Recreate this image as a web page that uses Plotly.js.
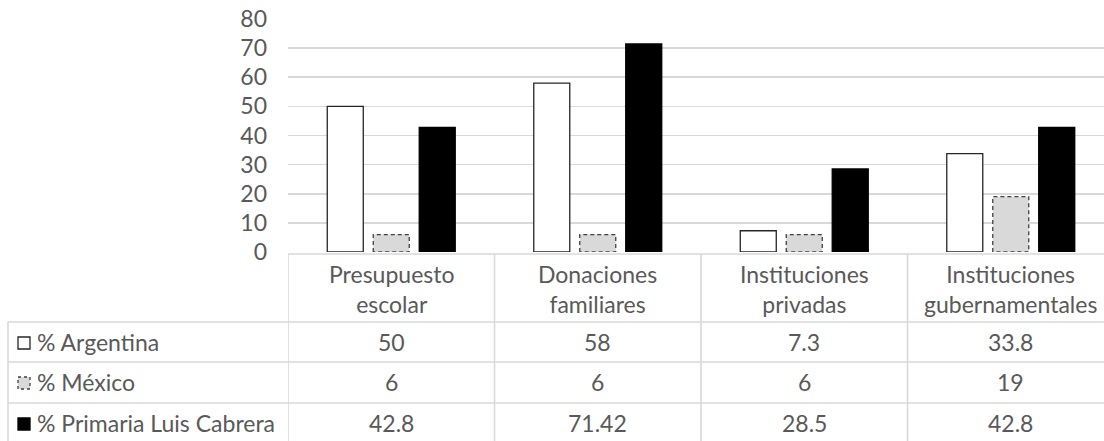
<!DOCTYPE html>
<html>
<head>
<meta charset="utf-8">
<script src="https://cdn.plot.ly/plotly-3.0.1.min.js"></script>
<style>
  html, body { margin: 0; padding: 0; overflow: hidden; background: #fff; }
  #chart { width: 1120px; height: 441px; }
  .barlayer .trace:nth-child(2) path { stroke-dasharray: 4 3; }
</style>
</head>
<body>
<div id="chart"></div>
<script>
// ---- data ----
const categories = ["Presupuesto escolar", "Donaciones familiares", "Instituciones privadas", "Instituciones gubernamentales"];
const headerLabels = ["Presupuesto<br>escolar", "Donaciones<br>familiares", "Instituciones<br>privadas", "Instituciones<br>gubernamentales"];
const seriesNames = ["% Argentina", "% México", "% Primaria Luis Cabrera"];
const argentina = [50, 58, 7.3, 33.8];
const mexico = [6, 6, 6, 19];
const luisCabrera = [42.8, 71.42, 28.5, 42.8];
const yTicks = [0, 10, 20, 30, 40, 50, 60, 70, 80];

// ---- geometry helpers (pixels -> paper) ----
const W = 1120, H = 441;
const M = { l: 288, r: 6, t: 19, b: 189 };
const PW = W - M.l - M.r, PH = H - M.t - M.b;
const xp = px => (px - M.l) / PW;
const yp = py => (H - M.b - py) / PH;

const textColor = "#595959";
const lineColor = "#d9d9d9";
const font = "Lato, 'Open Sans', sans-serif";
const fs = 23;

const traces = [
  { type: "bar", name: seriesNames[0], x: categories, y: argentina,
    marker: { color: "#ffffff", line: { color: "#262626", width: 1.3 } }, hoverinfo: "y" },
  { type: "bar", name: seriesNames[1], x: categories, y: mexico,
    marker: { color: "#d9d9d9", line: { color: "#404040", width: 1.3 } }, hoverinfo: "y" },
  { type: "bar", name: seriesNames[2], x: categories, y: luisCabrera,
    marker: { color: "#000000", line: { color: "#000000", width: 1.3 } }, hoverinfo: "y" }
];

const shapes = [];
const annotations = [];
const tableTop = 254, headerBottom = 322, rowLines = [362, 403], tableBottom = 470;
const rowCenters = [342, 382, 423];
const leftEdge = 8;
const lineStyle = { color: lineColor, width: 1.6 };

// header row top border
shapes.push({ type: "line", xref: "x", yref: "paper", x0: -0.5, x1: categories.length - 0.5,
  y0: yp(tableTop), y1: yp(tableTop), line: lineStyle });
// vertical column lines
for (let i = 0; i <= categories.length; i++) {
  shapes.push({ type: "line", xref: "x", yref: "paper", x0: i - 0.5, x1: i - 0.5,
    y0: yp(tableTop), y1: yp(tableBottom), line: lineStyle });
}
// left label column border
shapes.push({ type: "line", xref: "paper", yref: "paper", x0: xp(leftEdge), x1: xp(leftEdge),
  y0: yp(headerBottom), y1: yp(tableBottom), line: lineStyle });
// horizontal row lines
[headerBottom].concat(rowLines).forEach(py => {
  shapes.push({ type: "line", xref: "paper", yref: "paper", x0: xp(leftEdge), x1: 1,
    y0: yp(py), y1: yp(py), line: lineStyle });
});

// header labels
headerLabels.forEach((t, i) => {
  annotations.push({ xref: "x", yref: "paper", x: i, y: yp((tableTop + headerBottom) / 2 + 1),
    text: t, showarrow: false, xanchor: "center", yanchor: "middle",
    font: { family: font, size: fs, color: textColor } });
});

// values
const allSeries = [argentina, mexico, luisCabrera];
allSeries.forEach((vals, r) => {
  vals.forEach((v, i) => {
    annotations.push({ xref: "x", yref: "paper", x: i, y: yp(rowCenters[r]),
      text: String(v), showarrow: false, xanchor: "center", yanchor: "middle",
      font: { family: font, size: fs, color: textColor } });
  });
  annotations.push({ xref: "paper", yref: "paper", x: xp(35), y: yp(rowCenters[r]),
    text: seriesNames[r], showarrow: false, xanchor: "left", yanchor: "middle",
    font: { family: font, size: fs, color: textColor } });
});

// legend keys
const keyStyles = [
  { fill: "#ffffff", line: { color: "#262626", width: 1.3 } },
  { fill: "#d9d9d9", line: { color: "#404040", width: 1.3, dash: "dot" } },
  { fill: "#000000", line: { color: "#000000", width: 1.3 } }
];
keyStyles.forEach((k, r) => {
  const c = rowCenters[r] + 1;
  shapes.push({ type: "rect", xref: "paper", yref: "paper",
    x0: xp(18), x1: xp(30), y0: yp(c - 6), y1: yp(c + 6),
    fillcolor: k.fill, line: k.line });
});

const layout = {
  width: W, height: H,
  margin: M,
  paper_bgcolor: "#ffffff", plot_bgcolor: "#ffffff",
  showlegend: false,
  bargap: 0.332, bargroupgap: 0.217, barmode: "group",
  font: { family: font, size: fs, color: textColor },
  xaxis: { type: "category", showticklabels: false, showgrid: false, zeroline: false,
    showline: false, ticks: "", range: [-0.5, categories.length - 0.5] },
  yaxis: { range: [0, 80], tickvals: yTicks, showgrid: true, gridcolor: lineColor, gridwidth: 1.6,
    zeroline: false, showline: false, ticks: "", ticklabelstandoff: 20,
    tickfont: { family: font, size: fs, color: textColor } },
  shapes: shapes,
  annotations: annotations
};

Plotly.newPlot("chart", traces, layout, { displayModeBar: false, staticPlot: true });
</script>
</body>
</html>
